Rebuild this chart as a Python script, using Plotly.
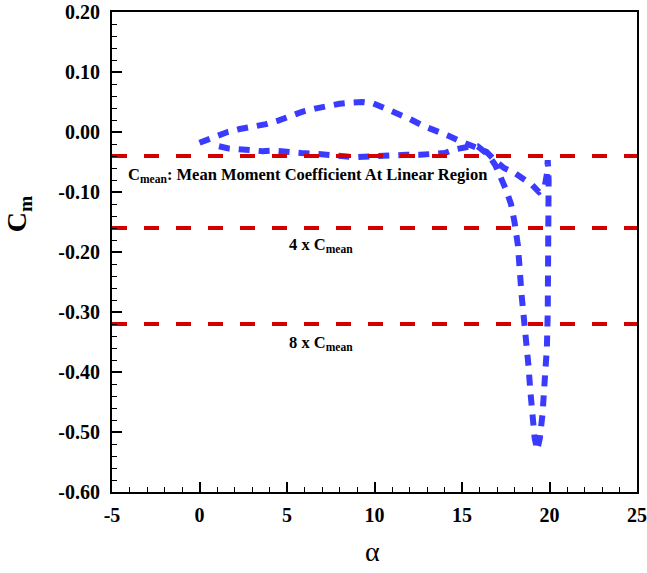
import plotly.graph_objects as go

# Pitching-moment hysteresis loop, Cm vs angle of attack (deg)
# upper branch: from alpha = 0 over the positive hump toward the stall region
alpha_upper = [0.0, 0.5, 1.0, 1.6, 2.3, 3.0, 3.8, 4.5, 5.2, 5.9, 6.6, 7.3, 8.0,
               8.7, 9.3, 9.9, 10.5, 11.2, 12.0, 12.8, 13.5, 14.2, 14.8, 15.4, 15.9]
cm_upper = [-0.018, -0.012, -0.006, 0.000, 0.005, 0.008, 0.013, 0.019, 0.027, 0.034,
            0.039, 0.044, 0.047, 0.049, 0.050, 0.048, 0.041, 0.032, 0.022, 0.010,
            0.003, -0.006, -0.014, -0.022, -0.028]

# gentle drop past the junction into the small hook near alpha = 19.5
alpha_hook = [16.4, 16.9, 17.4, 18.0, 18.5, 19.0, 19.4, 19.7, 19.85, 19.9]
cm_hook = [-0.033, -0.048, -0.060, -0.068, -0.078, -0.088, -0.100, -0.095, -0.070, -0.047]

# near-vertical moment stall at the top of the cycle
alpha_stall = [19.95, 19.95, 19.95, 19.9, 19.85, 19.75, 19.6, 19.45, 19.3]
cm_stall = [-0.080, -0.150, -0.220, -0.300, -0.360, -0.420, -0.470, -0.510, -0.530]

# steep recovery back up to the junction
alpha_recover = [19.15, 19.0, 18.9, 18.8, 18.65, 18.5, 18.4, 18.3, 18.2, 18.0,
                 17.8, 17.5, 17.2, 16.9, 16.5]
cm_recover = [-0.510, -0.470, -0.430, -0.390, -0.350, -0.310, -0.270, -0.230,
              -0.190, -0.150, -0.120, -0.095, -0.075, -0.055, -0.038]

# lower branch: nearly constant moment in the linear region
alpha_lower = [15.9, 15.3, 14.6, 14.0, 13.4, 12.6, 11.8, 11.0, 10.3, 9.6, 8.9,
               8.1, 7.3, 6.5, 5.8, 5.0, 4.3, 3.6, 2.9, 2.2, 1.6, 1.0, 0.7]
cm_lower = [-0.024, -0.025, -0.029, -0.035, -0.037, -0.038, -0.038, -0.039, -0.040,
            -0.042, -0.042, -0.040, -0.037, -0.036, -0.035, -0.032, -0.031, -0.032,
            -0.031, -0.029, -0.027, -0.023, -0.020]

alpha_loop = alpha_upper + alpha_hook + alpha_stall + alpha_recover + alpha_lower
cm_loop = cm_upper + cm_hook + cm_stall + cm_recover + cm_lower

# reference levels: C_mean and its multiples
c_mean = -0.04
ref_factors = [1, 4, 8]
ref_levels = [c_mean * k for k in ref_factors]
ref_span = [-5, 25]

x_ticks = [-5, 0, 5, 10, 15, 20, 25]
x_tick_labels = ["-5", "0", "5", "10", "15", "20", "25"]
y_ticks = [0.2, 0.1, 0.0, -0.1, -0.2, -0.3, -0.4, -0.5, -0.6]
y_tick_labels = ["0.20", "0.10", "0.00", "-0.10", "-0.20", "-0.30", "-0.40", "-0.50", "-0.60"]

SERIF = "Liberation Serif"

fig = go.Figure()

fig.add_trace(go.Scatter(
    x=alpha_loop, y=cm_loop, mode="lines",
    line=dict(color="#3b3bff", width=6, dash="11px,9px"),
    showlegend=False, hoverinfo="skip",
))

for lvl in ref_levels:
    fig.add_trace(go.Scatter(
        x=ref_span, y=[lvl, lvl], mode="lines",
        line=dict(color="#d40000", width=4, dash="15px,17px"),
        showlegend=False, hoverinfo="skip",
    ))

ann_font = dict(family=SERIF, size=16.5, color="black")
fig.add_annotation(x=-4.2, y=-0.072, xref="x", yref="y", xanchor="left", yanchor="middle",
                   text="<b>C<sub>mean</sub>: Mean Moment Coefficient At Linear Region</b>",
                   showarrow=False, font=ann_font)
fig.add_annotation(x=5.0, y=-0.188, xref="x", yref="y", xanchor="left", yanchor="middle",
                   text="<b>4 x C<sub>mean</sub></b>", showarrow=False, font=ann_font)
fig.add_annotation(x=5.0, y=-0.352, xref="x", yref="y", xanchor="left", yanchor="middle",
                   text="<b>8 x C<sub>mean</sub></b>", showarrow=False, font=ann_font)

# axis titles
fig.add_annotation(x=-0.178, y=0.58, xref="paper", yref="paper", xanchor="center", yanchor="middle",
                   text="<b>C<sub>m</sub></b>", textangle=-90, showarrow=False,
                   font=dict(family=SERIF, size=28, color="black"))
fig.add_annotation(x=0.497, y=-0.123, xref="paper", yref="paper", xanchor="center", yanchor="middle",
                   text="α", showarrow=False,
                   font=dict(family=SERIF, size=28, color="black"))

axis_common = dict(
    showline=True, linecolor="black", linewidth=2, mirror=True,
    showgrid=False, zeroline=False, automargin=False,
    ticks="inside", tickcolor="black", tickwidth=2, ticklen=10,
    tickfont=dict(family="Liberation Serif, Times New Roman, serif", size=20,
                  color="black", weight="bold"),
)

fig.update_xaxes(
    range=[-5, 25], tickvals=x_ticks, ticktext=x_tick_labels, ticklabelstandoff=4,
    minor=dict(dtick=1, ticks="inside", ticklen=5, tickwidth=1, tickcolor="black"),
    **axis_common,
)
fig.update_yaxes(
    range=[-0.6, 0.2], tickvals=y_ticks, ticktext=y_tick_labels, ticklabelstandoff=6,
    minor=dict(dtick=0.02, ticks="inside", ticklen=5, tickwidth=1, tickcolor="black"),
    **axis_common,
)

fig.update_layout(
    width=647, height=573,
    margin=dict(l=112, r=10, t=12, b=81),
    paper_bgcolor="white", plot_bgcolor="white",
    font=dict(family=SERIF, color="black"),
)

fig.write_html("out.html")
